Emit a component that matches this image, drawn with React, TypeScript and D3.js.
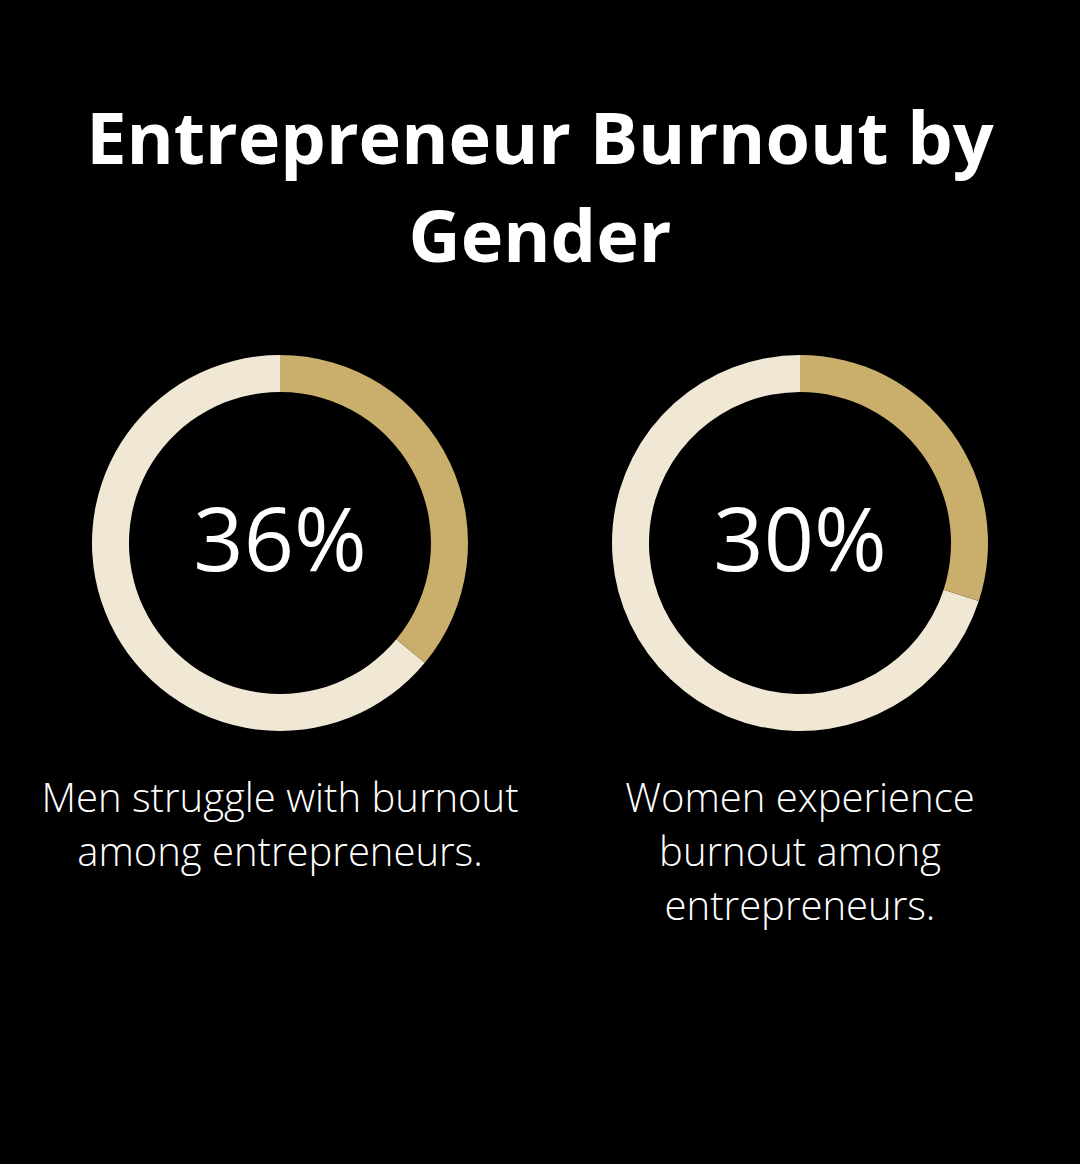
import React from "react";
import * as d3 from "d3";

const titleLines = ["Entrepreneur Burnout by", "Gender"];
const groups = ["Men", "Women"];
const burnoutValues = [36, 30];
const captionLines = [
  ["Men struggle with burnout", "among entrepreneurs."],
  ["Women experience", "burnout among", "entrepreneurs."],
];

const W = 1080;
const H = 1164;
const GOLD = "#C9AF6B";
const LIGHT = "#F0E7D5";

export default function App() {
  const x = d3.scalePoint<string>().domain(groups).range([280, 800]);
  const angle = d3.scaleLinear().domain([0, 100]).range([0, 2 * Math.PI]);
  const outerR = 188;
  const innerR = 151;
  const cy = 543;
  const arc = d3.arc<any>().innerRadius(innerR).outerRadius(outerR);

  return (
    <svg
      width={W}
      height={H}
      viewBox={`0 0 ${W} ${H}`}
      style={{ position: "fixed", left: 0, top: 0, background: "#000" }}
    >
      <rect x={0} y={0} width={W} height={H} fill="#000" />
      {titleLines.map((t, i) => (
        <text
          key={t}
          x={W / 2}
          y={164 + i * 98}
          textAnchor="middle"
          fill="#fff"
          fontFamily="'Open Sans', sans-serif"
          fontWeight={700}
          fontSize={72}
        >
          {t}
        </text>
      ))}
      {groups.map((g, gi) => {
        const v = burnoutValues[gi];
        const cx = x(g) as number;
        return (
          <g key={g} transform={`translate(${cx},${cy})`}>
            <path
              d={arc({ startAngle: angle(v), endAngle: angle(100) }) as string}
              fill={LIGHT}
            />
            <path
              d={arc({ startAngle: angle(0), endAngle: angle(v) }) as string}
              fill={GOLD}
            />
            <text
              x={0}
              y={28}
              textAnchor="middle"
              fill="#fff"
              fontFamily="'Open Sans', sans-serif"
              fontWeight={400}
              fontSize={88}
            >
              {`${v}%`}
            </text>
            {captionLines[gi].map((line, li) => (
              <text
                key={li}
                x={0}
                y={812 - cy + li * 54}
                textAnchor="middle"
                fill="#fff"
                fontFamily="'Open Sans', sans-serif"
                fontWeight={300}
                fontSize={40}
              >
                {line}
              </text>
            ))}
          </g>
        );
      })}
    </svg>
  );
}
